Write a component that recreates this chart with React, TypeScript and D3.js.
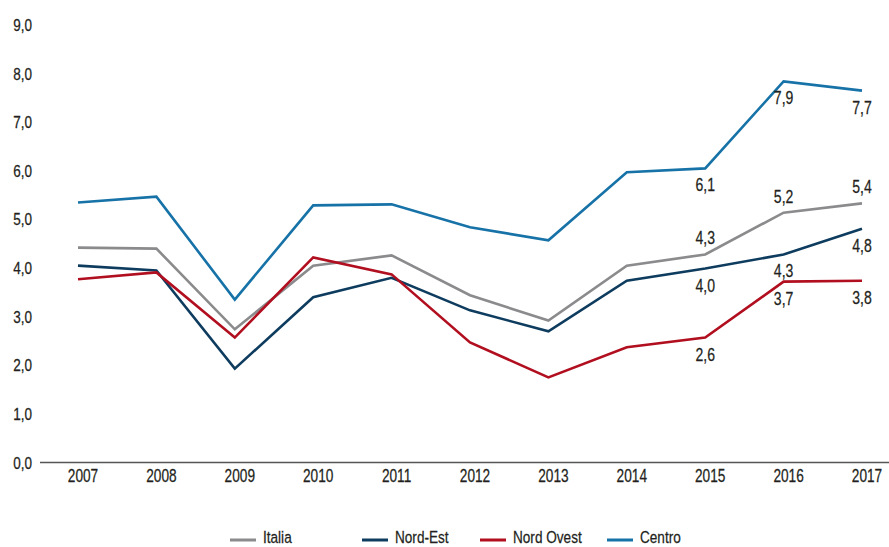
import React from "react";
import * as d3 from "d3";

const years = ["2007","2008","2009","2010","2011","2012","2013","2014","2015","2016","2017"];
const italia = [4.42, 4.40, 2.74, 4.05, 4.26, 3.44, 2.92, 4.05, 4.28, 5.14, 5.33];
const nordEst = [4.05, 3.95, 1.93, 3.40, 3.80, 3.13, 2.70, 3.74, 3.99, 4.28, 4.81];
const nordOvest = [3.77, 3.91, 2.57, 4.22, 3.87, 2.47, 1.75, 2.37, 2.57, 3.72, 3.74];
const centro = [5.35, 5.47, 3.35, 5.29, 5.31, 4.84, 4.57, 5.97, 6.05, 7.84, 7.65];
const yTicks = [0, 1, 2, 3, 4, 5, 6, 7, 8, 9];
const labelYears = ["2015", "2016", "2017"];

const series = [
  { name: "Italia", values: italia, color: "#8b8b8d", labels: ["4,3", "5,2", "5,4"], below: [false, false, false] },
  { name: "Nord-Est", values: nordEst, color: "#0e3c5f", labels: ["4,0", "4,3", "4,8"], below: [true, true, true] },
  { name: "Nord Ovest", values: nordOvest, color: "#b10f1f", labels: ["2,6", "3,7", "3,8"], below: [true, true, true] },
  { name: "Centro", values: centro, color: "#1672a7", labels: ["6,1", "7,9", "7,7"], below: [true, true, true] },
];

const legendX = [230, 362, 480, 607];

const FONT = "'Liberation Sans', Arial, sans-serif";
const TEXT_COLOR = "#231f20";

function CText({ x, y, size, anchor = "start", sx = 0.78, children }: any) {
  return (
    <text
      transform={`translate(${x},${y}) scale(${sx},1)`}
      textAnchor={anchor}
      fontSize={size}
      fill={TEXT_COLOR}
      stroke={TEXT_COLOR}
      strokeWidth={0.25}
      fontFamily={FONT}
    >
      {children}
    </text>
  );
}

export default function App() {
  const W = 889, H = 547;
  const x = d3.scalePoint<string>().domain(years).range([78, 862]);
  const y = d3.scaleLinear().domain([0, 9]).range([462.5, 25]);
  const line = d3.line<number>().x((_, i) => x(years[i]) as number).y((d) => y(d));
  const fmt = (v: number) => d3.format(".1f")(v).replace(".", ",");

  return (
    <svg width={W} height={H} style={{ position: "absolute", left: 0, top: 0, background: "#fff" }}>
      {yTicks.map((t) => (
        <CText key={t} x={32} y={y(t) + 6} size={16.5} anchor="end" sx={0.82}>{fmt(t)}</CText>
      ))}
      <line x1={40} x2={889} y1={y(0)} y2={y(0)} stroke="#555" strokeWidth={1.6} />
      {years.map((yr) => (
        <CText key={yr} x={(x(yr) as number) + 5} y={482} size={18} anchor="middle" sx={0.76}>{yr}</CText>
      ))}
      {series.map((s) => (
        <path key={s.name} d={line(s.values) || ""} fill="none" stroke={s.color} strokeWidth={2.6} strokeLinejoin="miter" />
      ))}
      {series.map((s) =>
        labelYears.map((yr, j) => {
          const i = years.indexOf(yr);
          const px = x(yr) as number;
          const py = y(s.values[i]);
          return (
            <CText key={s.name + yr} x={px} y={s.below[j] ? py + 23 : py - 10} size={18} anchor="middle" sx={0.78}>{s.labels[j]}</CText>
          );
        })
      )}
      {series.map((s, k) => (
        <g key={s.name}>
          <line x1={legendX[k]} x2={legendX[k] + 26} y1={540} y2={540} stroke={s.color} strokeWidth={3} />
          <CText x={legendX[k] + 33} y={543} size={17} sx={0.8}>{s.name}</CText>
        </g>
      ))}
    </svg>
  );
}
